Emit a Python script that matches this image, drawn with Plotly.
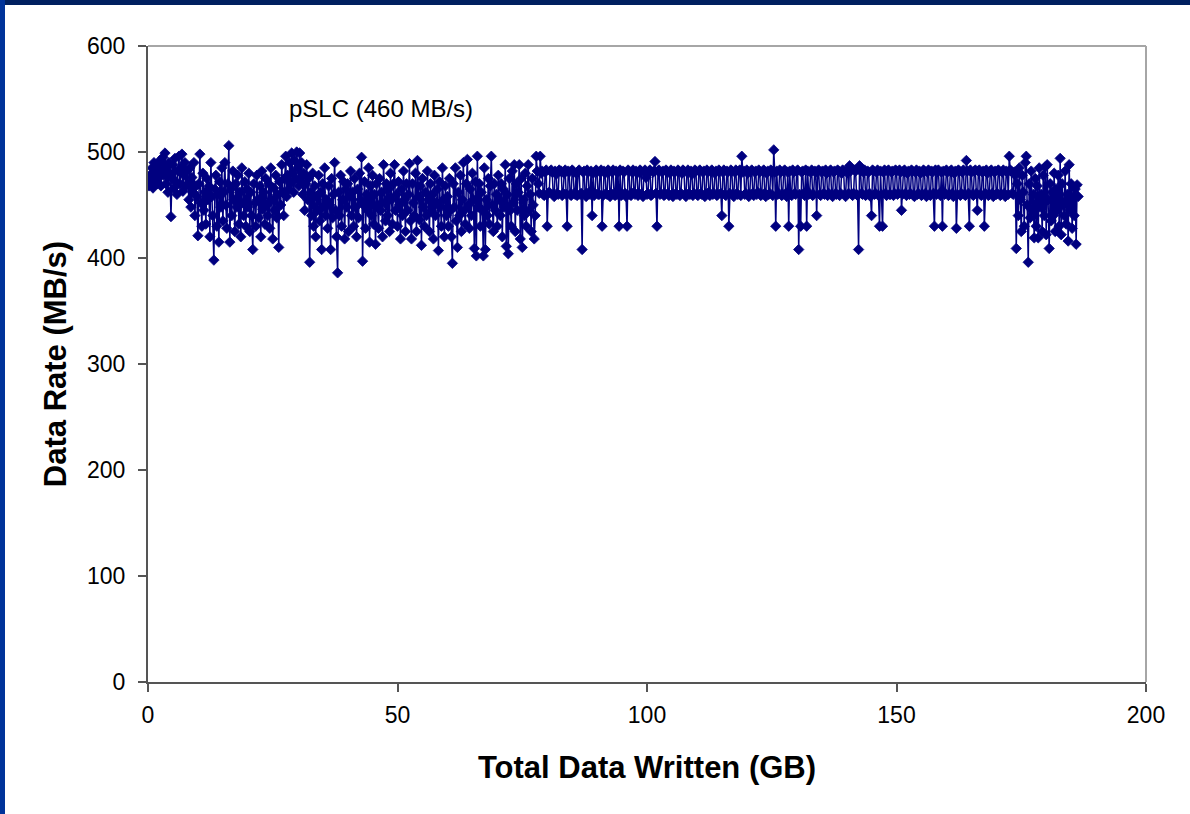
import numpy as np
import plotly.graph_objects as go

# ---- data, one value every ~0.2 GB ----
# Segment A: 0 - 78 GB, noisy region
seg_a_range = (0.0, 78.0)
rate_a = [
    # 0-10 GB
    470,468,478,472,485,466,490,475,480,470,488,476,492,468,482,
    495,478,499,470,486,462,490,480,439,475,
    488,466,494,472,460,482,496,470,485,498,463,478,490,468,482,
    470,455,485,448,476,462,490,440,468,458,
    # 10-20 GB
    421,470,498,452,430,480,445,462,432,475,
    455,468,420,490,458,440,398,465,478,430,
    460,415,472,448,485,435,462,490,450,428,
    470,506,415,465,440,482,455,425,470,448,
    478,432,462,420,485,452,440,472,430,465,
    # 20-30 GB
    448,480,425,462,440,408,470,452,430,478,
    455,438,468,420,482,446,462,432,475,450,
    440,470,428,485,455,418,466,445,478,438,
    460,410,472,450,488,462,440,475,496,458,
    478,465,490,470,499,480,462,492,475,500,
    # 30-40 GB
    485,468,499,472,490,460,480,445,470,488,
    455,475,396,462,440,480,430,468,420,458,
    445,478,435,462,408,470,448,485,440,455,
    428,468,450,408,475,438,460,490,445,420,
    386,462,440,478,430,455,472,418,465,448,
    # 40-50 GB
    470,425,458,482,440,462,430,475,448,420,
    465,438,480,455,495,397,450,472,428,460,
    445,485,415,468,440,478,432,460,413,470,
    450,428,475,445,462,420,488,452,435,470,
    440,465,425,480,455,432,470,488,445,460,
    # 50-60 GB
    430,472,450,418,465,440,482,455,425,470,
    445,460,489,435,418,470,452,440,480,425,
    492,458,436,468,412,475,448,430,462,440,
    482,455,425,470,445,460,418,478,440,452,
    465,407,472,448,430,485,455,420,468,440,
    # 60-70 GB
    458,430,475,445,420,395,470,448,485,435,
    410,462,440,478,425,455,490,445,432,470,
    493,450,428,465,440,480,455,409,472,402,
    496,448,470,430,462,445,402,485,408,455,
    440,475,432,468,496,450,425,470,445,460,
    # 70-78 GB
    430,478,455,440,470,420,465,448,488,411,
    460,404,475,445,430,482,452,488,425,470,
    445,462,488,418,475,410,455,440,480,430,
    468,488,445,460,425,475,450,418,440,496,
]

# Segment B: 78 - 174 GB, steady band
seg_b_range = (78.0, 174.0)
rate_b = [
    482,470,461,496,480,482,460,459,481,483,430,461,462,482,483,481,460,458,482,479,
    461,460,483,482,482,459,461,480,483,460,430,482,481,460,459,483,482,461,460,480,
    459,482,483,460,461,408,481,482,460,458,483,481,462,460,482,440,480,459,461,483,
    482,460,460,481,483,430,459,482,480,461,460,483,482,458,461,481,483,460,459,482,
    460,481,430,483,459,460,482,481,461,458,430,483,482,460,459,481,483,462,460,482,
    480,459,461,483,482,460,458,481,483,476,460,461,482,483,459,460,481,482,491,461,
    430,482,483,460,461,481,482,459,460,483,482,461,459,480,483,460,458,482,481,461,
    460,483,482,459,461,480,483,482,460,458,481,483,461,460,482,479,459,461,483,482,
    460,459,482,483,461,460,481,482,458,460,483,481,462,459,482,483,460,461,480,482,
    459,460,483,482,461,440,481,483,460,459,482,481,430,461,483,482,460,458,481,483,
    461,460,482,483,459,496,481,482,460,461,483,480,458,460,482,483,461,459,481,482,
    460,462,483,481,459,460,482,483,461,458,480,482,460,461,483,482,459,502,481,430,
    482,460,461,483,481,459,460,482,483,461,458,481,430,482,460,459,483,481,461,460,
    482,483,408,460,430,481,482,461,459,483,430,482,460,461,481,483,459,460,482,481,
    440,482,483,460,459,481,482,461,460,483,480,459,461,482,483,460,458,481,482,461,
    460,483,482,459,461,480,483,482,460,458,481,483,461,487,482,460,459,461,483,482,
    460,459,408,487,482,461,460,481,483,459,460,482,481,461,458,440,483,482,460,461,
    481,483,459,430,482,460,430,481,483,461,459,482,483,460,460,481,482,459,461,483,
    482,460,461,483,481,445,460,482,483,461,459,480,482,460,461,483,482,459,458,481,
    483,460,461,482,480,459,460,483,482,461,458,481,483,460,459,482,481,461,430,483,
    460,482,483,461,459,481,430,482,460,461,483,481,459,460,482,483,461,458,480,482,
    428,460,483,482,459,461,481,483,460,459,492,482,461,430,483,481,460,459,482,483,
    461,445,482,483,460,459,481,482,430,461,483,480,459,460,482,483,461,458,481,482,
    460,461,483,482,459,460,481,483,461,458,482,481,460,496,483,482,461,460,481,478,
]

# Segment C: 174 - 186.4 GB, noisy tail
seg_c_range = (174.0, 186.4)
rate_c = [
    409,470,440,485,455,425,478,462,430,490,
    496,450,396,470,438,482,445,460,419,475,
    430,468,419,485,448,460,425,478,440,486,
    422,488,455,409,470,435,462,440,480,425,
    465,445,478,430,494,422,470,450,440,482,
    432,460,416,488,445,470,428,458,440,465,
    413,469,458,
]

x_ticks = [0, 50, 100, 150, 200]
y_ticks = [0, 100, 200, 300, 400, 500, 600]
label_text = "pSLC (460 MB/s)"
x_title = "Total Data Written (GB)"
y_title = "Data Rate (MB/s)"

# ---- build series ----
xs, ys = [], []
segments = [(seg_a_range, rate_a, False), (seg_b_range, rate_b, False), (seg_c_range, rate_c, True)]
for (a, b), r, endpoint in segments:
    xs.extend(np.linspace(a, b, len(r), endpoint=endpoint).tolist())
    ys.extend(r)

NAVY = "#000080"
FONT = "Arial, 'Liberation Sans', Helvetica, sans-serif"

fig = go.Figure()
fig.add_trace(go.Scatter(
    x=xs, y=ys, mode="lines+markers",
    line=dict(color=NAVY, width=1.5),
    marker=dict(symbol="diamond", size=8, color=NAVY, line=dict(color=NAVY, width=0.8)),
    showlegend=False, hoverinfo="skip",
))

W, H = 1190, 814
L, R, T, B = 148, 44, 46, 132
pw, ph = W - L - R, H - T - B

def px_to_paper_x(px):
    return (px - L) / pw

def px_to_paper_y(py):
    return (H - B - py) / ph

shapes = [
    dict(type="rect", xref="paper", yref="paper",
         x0=px_to_paper_x(0), x1=px_to_paper_x(W), y0=px_to_paper_y(5), y1=px_to_paper_y(0),
         fillcolor="#002060", line=dict(width=0), layer="above"),
    dict(type="rect", xref="paper", yref="paper",
         x0=px_to_paper_x(0), x1=px_to_paper_x(5), y0=px_to_paper_y(H), y1=px_to_paper_y(0),
         fillcolor="#00339a", line=dict(width=0), layer="above"),
    dict(type="line", xref="paper", yref="paper", x0=0, x1=1, y0=1, y1=1,
         line=dict(color="#a6a6a6", width=2)),
    dict(type="line", xref="paper", yref="paper", x0=1, x1=1, y0=0, y1=1,
         line=dict(color="#a6a6a6", width=2)),
]

fig.update_layout(
    width=W, height=H,
    margin=dict(l=L, r=R, t=T, b=B, pad=0),
    paper_bgcolor="white", plot_bgcolor="white",
    font=dict(family=FONT, color="black", size=23),
    shapes=shapes,
    xaxis=dict(
        range=[0, 200], tickvals=x_ticks, ticktext=[str(v) for v in x_ticks],
        showgrid=False, zeroline=False,
        showline=True, linecolor="#555555", linewidth=2,
        ticks="outside", ticklen=8, tickwidth=2, tickcolor="#555555",
        tickfont=dict(size=23, family=FONT, color="black"),
        ticklabelstandoff=3,
        title=dict(text=f"<b>{x_title}</b>", font=dict(size=31, family=FONT, color="black"), standoff=30),
    ),
    yaxis=dict(
        range=[0, 600], tickvals=y_ticks, ticktext=[str(v) for v in y_ticks],
        showgrid=False, zeroline=False,
        showline=True, linecolor="#555555", linewidth=2,
        ticks="outside", ticklen=8, tickwidth=2, tickcolor="#555555",
        tickfont=dict(size=23, family=FONT, color="black"),
        ticklabelstandoff=8,
        title=dict(text=f"<b>{y_title}</b>", font=dict(size=31, family=FONT, color="black"), standoff=11),
    ),
    annotations=[dict(
        x=46.7, y=541, xref="x", yref="y", text=label_text, showarrow=False,
        font=dict(size=24, family=FONT, color="black"), xanchor="center", yanchor="middle",
    )],
)

fig.write_html("out.html")
